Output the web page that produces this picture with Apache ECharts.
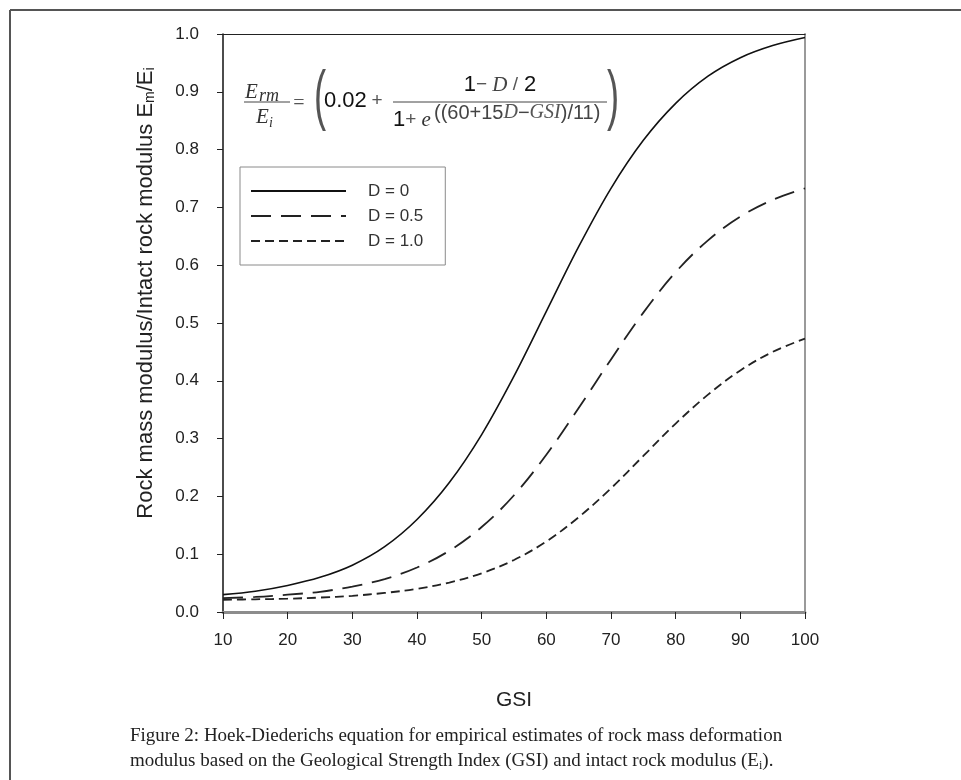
<!DOCTYPE html>
<html>
<head>
<meta charset="utf-8">
<script src="https://cdn.jsdelivr.net/npm/echarts@6/dist/echarts.min.js"></script>
<style>
html,body{margin:0;padding:0;background:#fff;}
#chart{width:961px;height:780px;}
</style>
</head>
<body>
<div id="chart"></div>
<script>
// Data
var gsi = [10, 15, 20, 25, 30, 35, 40, 45, 50, 55, 60, 65, 70, 75, 80, 85, 90, 95, 100];
var seriesNames = ['D = 0', 'D = 0.5', 'D = 1.0'];
var d0  = [0.030, 0.036, 0.046, 0.060, 0.081, 0.113, 0.160, 0.224, 0.307, 0.408, 0.520, 0.632, 0.733, 0.816, 0.880, 0.927, 0.959, 0.980, 0.994];
var d05 = [0.024, 0.026, 0.030, 0.035, 0.044, 0.057, 0.077, 0.106, 0.147, 0.202, 0.272, 0.353, 0.437, 0.518, 0.588, 0.643, 0.684, 0.713, 0.733];
var d1  = [0.021, 0.022, 0.023, 0.025, 0.028, 0.033, 0.040, 0.051, 0.067, 0.090, 0.122, 0.164, 0.214, 0.270, 0.326, 0.376, 0.418, 0.450, 0.473];
var yAxisTitle = 'Rock mass modulus/Intact rock modulus E{s|m}/E{s|i}';
var xAxisTitle = 'GSI';
var captionLine1 = 'Figure 2: Hoek-Diederichs equation for empirical estimates of rock mass deformation';
var captionLine2 = 'modulus based on the Geological Strength Index (GSI) and intact rock modulus (E{s|i}).';

function pairs(xs, ys) { return xs.map(function (x, i) { return [x, ys[i]]; }); }

var SANS = '"Liberation Sans", Arial, sans-serif';
var SERIF = '"Liberation Serif", "Times New Roman", serif';

var chart = echarts.init(document.getElementById('chart'), null, {renderer: 'canvas'});

var lineBase = {type: 'line', showSymbol: false, symbol: 'none', smooth: 0.35, z: 3};

var option = {
  backgroundColor: '#ffffff',
  animation: false,
  grid: {left: 223, right: 156, top: 34, bottom: 168},
  legend: {
    orient: 'vertical',
    left: 240, top: 167,
    padding: [14, 22, 14, 10],
    itemWidth: 95, itemHeight: 20, itemGap: 5,
    borderColor: '#8a8a8a', borderWidth: 1,
    backgroundColor: '#fff',
    data: seriesNames,
    itemStyle: {opacity: 0},
    textStyle: {fontFamily: SANS, fontSize: 17, color: '#333', padding: [0, 0, 0, 17], lineHeight: 20}
  },
  xAxis: [{
    type: 'value', min: 10, max: 100, interval: 10,
    position: 'bottom',
    name: xAxisTitle, nameLocation: 'middle', nameGap: 78,
    nameTextStyle: {fontFamily: SANS, fontSize: 21, color: '#222'},
    axisLine: {show: true, onZero: false, lineStyle: {color: '#8c8c8c', width: 3}},
    axisTick: {show: true, length: 7, lineStyle: {color: '#222', width: 1}},
    axisLabel: {fontFamily: SANS, fontSize: 17, color: '#222', margin: 20},
    splitLine: {show: false}
  }, {
    type: 'value', min: 10, max: 100, position: 'top',
    axisLine: {show: true, onZero: false, lineStyle: {color: '#222', width: 1.2}},
    axisTick: {show: false}, axisLabel: {show: false}, splitLine: {show: false}
  }],
  yAxis: [{
    type: 'value', min: 0, max: 1, interval: 0.1,
    position: 'left',
    axisLine: {show: true, onZero: false, lineStyle: {color: '#111', width: 1.5}},
    axisTick: {show: true, length: 6, lineStyle: {color: '#222', width: 1}},
    axisLabel: {fontFamily: SANS, fontSize: 17, color: '#222', margin: 24,
      formatter: function (v) { return v.toFixed(1); }},
    splitLine: {show: false}
  }, {
    type: 'value', min: 0, max: 1, position: 'right',
    axisLine: {show: true, onZero: false, lineStyle: {color: '#9a9a9a', width: 2}},
    axisTick: {show: false}, axisLabel: {show: false}, splitLine: {show: false}
  }],
  series: [
    Object.assign({}, lineBase, {name: seriesNames[0], data: pairs(gsi, d0),
      lineStyle: {color: '#111', width: 1.6, type: 'solid'}, itemStyle: {color: '#111'}}),
    Object.assign({}, lineBase, {name: seriesNames[1], data: pairs(gsi, d05),
      lineStyle: {color: '#222', width: 1.8, type: [20, 10]}, itemStyle: {color: '#222'}}),
    Object.assign({}, lineBase, {name: seriesNames[2], data: pairs(gsi, d1),
      lineStyle: {color: '#222', width: 1.8, type: [9, 5]}, itemStyle: {color: '#222'}})
  ],
  graphic: [
    // outer frame (top and left edges visible)
    {type: 'line', shape: {x1: 10, y1: 10, x2: 961, y2: 10}, style: {stroke: '#555', lineWidth: 2}},
    {type: 'line', shape: {x1: 10, y1: 10, x2: 10, y2: 780}, style: {stroke: '#555', lineWidth: 2}},
    // y-axis title (rotated, sits slightly above the axis centre as in the reference)
    {type: 'text', x: 146, y: 293, rotation: Math.PI / 2, style: {
      text: yAxisTitle, font: '22px ' + SANS, fill: '#222', textAlign: 'center', textVerticalAlign: 'middle',
      rich: {s: {font: '14px ' + SANS, fill: '#222', padding: [9, 0, 0, 0]}}}},
    // formula: E_rm / E_i
    {type: 'text', x: 245, y: 92, style: {text: 'E', font: 'italic 21px ' + SERIF, fill: '#333', textVerticalAlign: 'middle'}},
    {type: 'text', x: 259, y: 96, style: {text: 'rm', font: 'italic 18px ' + SERIF, fill: '#333', textVerticalAlign: 'middle'}},
    {type: 'line', shape: {x1: 244, y1: 102, x2: 290, y2: 102}, style: {stroke: '#444', lineWidth: 1}},
    {type: 'text', x: 256, y: 117, style: {text: 'E', font: 'italic 21px ' + SERIF, fill: '#333', textVerticalAlign: 'middle'}},
    {type: 'text', x: 269, y: 123, style: {text: 'i', font: 'italic 14px ' + SERIF, fill: '#333', textVerticalAlign: 'middle'}},
    {type: 'text', x: 299, y: 104, style: {text: '=', font: '20px ' + SERIF, fill: '#555', textAlign: 'center', textVerticalAlign: 'middle'}},
    {type: 'text', x: 320, y: 99, scaleX: 0.55,
      style: {text: '(', font: '66px ' + SANS, fill: '#555', textAlign: 'center', textVerticalAlign: 'middle'}},
    {type: 'text', x: 324, y: 101, style: {text: '0.02', font: '22px ' + SANS, fill: '#111', textVerticalAlign: 'middle'}},
    {type: 'text', x: 377, y: 101, style: {text: '+', font: '19px ' + SANS, fill: '#555', textAlign: 'center', textVerticalAlign: 'middle'}},
    {type: 'text', x: 500, y: 85, style: {
      text: '{n|1}{o|−}{i| D }{o|/}{n| 2}', textAlign: 'center', textVerticalAlign: 'middle',
      rich: {n: {font: '22px ' + SANS, fill: '#111'}, o: {font: '19px ' + SANS, fill: '#555'}, i: {font: 'italic 21px ' + SERIF, fill: '#444'}}}},
    {type: 'line', shape: {x1: 393, y1: 102, x2: 607, y2: 102}, style: {stroke: '#444', lineWidth: 1}},
    {type: 'text', x: 393, y: 120, style: {
      text: '{n|1}{o|+}{e| e}', textVerticalAlign: 'middle',
      rich: {n: {font: '22px ' + SANS, fill: '#111'}, o: {font: '19px ' + SANS, fill: '#555'}, e: {font: 'italic 21px ' + SERIF, fill: '#333'}}}},
    {type: 'text', x: 434, y: 113, style: {
      text: '{n|((60+15}{i|D}{n|−}{i|GSI}{n|)/11)}', textVerticalAlign: 'middle',
      rich: {n: {font: '20px ' + SANS, fill: '#444'}, i: {font: 'italic 20px ' + SERIF, fill: '#555'}}}},
    {type: 'text', x: 613, y: 99, scaleX: 0.55,
      style: {text: ')', font: '66px ' + SANS, fill: '#555', textAlign: 'center', textVerticalAlign: 'middle'}},
    // caption
    {type: 'text', x: 130, y: 736, style: {text: captionLine1, font: '19px ' + SERIF, fill: '#222', textVerticalAlign: 'middle'}},
    {type: 'text', x: 130, y: 761, style: {text: captionLine2, font: '19px ' + SERIF, fill: '#222', textVerticalAlign: 'middle',
      rich: {s: {font: '12px ' + SERIF, fill: '#222', padding: [9, 0, 0, 0]}}}}
  ]
};

chart.setOption(option);
</script>
</body>
</html>
